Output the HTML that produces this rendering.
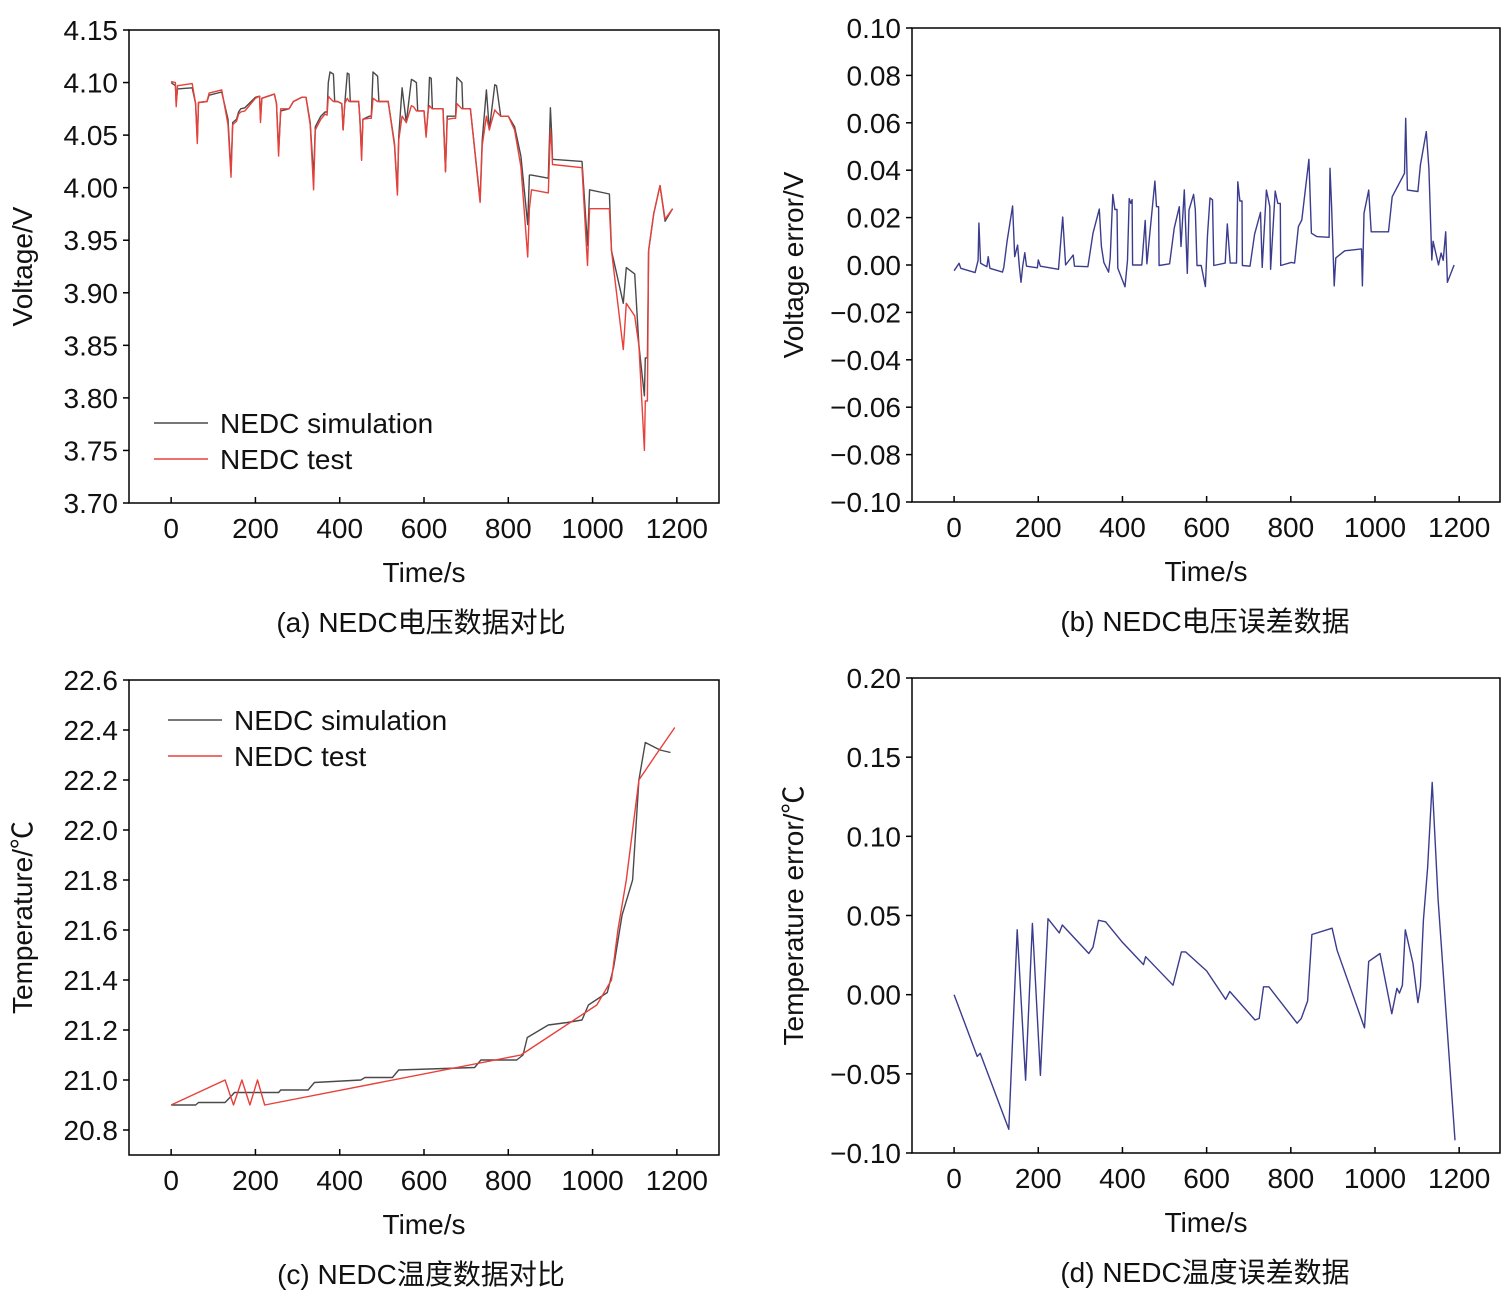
<!DOCTYPE html>
<html><head><meta charset="utf-8">
<style>
html,body{margin:0;padding:0;background:#fff;}
svg{display:block;font-family:"Liberation Sans","Noto Sans CJK SC",sans-serif;}
</style></head>
<body>
<svg id="fig" width="1509" height="1296" viewBox="0 0 1509 1296" xmlns="http://www.w3.org/2000/svg"></svg>
<script>
// ---- Panel (a) voltage data ----
const aTime = [0,10,12,15,50,58,62,65,85,90,120,135,142,146,155,160,165,175,200,210,212,215,245,250,255,260,280,290,310,320,330,338,342,355,365,370,373,377,385,388,395,405,408,412,418,422,425,445,448,452,455,470,475,479,490,493,495,515,530,537,540,548,558,570,575,582,585,600,605,610,613,617,620,645,651,655,670,675,678,690,692,710,733,738,748,755,768,772,782,800,815,830,846,850,855,895,900,903,905,975,988,993,1040,1045,1073,1080,1100,1110,1123,1125,1130,1133,1145,1160,1172,1190];
const aTest = [4.101,4.100,4.077,4.097,4.099,4.080,4.042,4.081,4.082,4.090,4.093,4.060,4.010,4.060,4.063,4.070,4.072,4.073,4.085,4.087,4.062,4.085,4.089,4.080,4.030,4.075,4.075,4.082,4.086,4.086,4.060,3.998,4.055,4.065,4.070,4.069,4.087,4.085,4.082,4.082,4.082,4.080,4.055,4.080,4.085,4.082,4.082,4.082,4.065,4.026,4.065,4.066,4.066,4.085,4.082,4.082,4.082,4.082,4.040,3.993,4.045,4.068,4.062,4.078,4.077,4.073,4.073,4.073,4.048,4.074,4.078,4.076,4.075,4.075,4.015,4.065,4.066,4.066,4.080,4.075,4.075,4.075,3.986,4.040,4.068,4.055,4.074,4.072,4.068,4.068,4.055,4.020,3.934,3.980,3.998,3.995,4.055,4.040,4.022,4.019,3.926,3.980,3.980,3.940,3.846,3.890,3.878,3.850,3.750,3.797,3.797,3.940,3.975,4.002,3.970,3.980];
const aSim = [4.100,4.097,4.080,4.094,4.095,4.080,4.045,4.081,4.082,4.088,4.091,4.065,4.015,4.062,4.065,4.072,4.075,4.076,4.086,4.087,4.065,4.085,4.089,4.080,4.035,4.073,4.075,4.082,4.086,4.086,4.062,4.010,4.058,4.068,4.072,4.072,4.100,4.110,4.108,4.082,4.082,4.080,4.055,4.080,4.109,4.108,4.082,4.082,4.065,4.030,4.065,4.068,4.068,4.110,4.106,4.082,4.082,4.082,4.042,3.996,4.048,4.095,4.062,4.103,4.102,4.100,4.073,4.073,4.050,4.074,4.105,4.104,4.075,4.075,4.016,4.068,4.068,4.068,4.105,4.100,4.075,4.075,3.988,4.045,4.093,4.055,4.098,4.097,4.068,4.068,4.058,4.030,3.965,4.012,4.012,4.009,4.076,4.050,4.027,4.025,3.945,3.998,3.994,3.940,3.890,3.924,3.918,3.850,3.802,3.838,3.838,3.940,3.975,4.002,3.968,3.980];
// ---- Panel (b) voltage error ----
const bTime = [0,12,16,50,57,59,63,78,81,85,115,118,126,139,144,151,155,159,163,168,172,198,200,205,248,258,265,283,286,318,330,345,350,356,367,371,377,382,387,389,406,412,416,420,423,424,446,454,458,477,481,486,487,512,523,535,539,547,554,558,569,573,577,587,597,602,608,614,617,644,649,656,671,674,679,684,685,703,714,728,732,742,750,752,763,769,775,776,801,809,818,826,843,849,862,891,893,897,903,907,928,968,970,974,985,991,1032,1041,1070,1073,1077,1102,1108,1122,1128,1135,1138,1151,1157,1162,1168,1172,1188];
const bErr = [-0.0024,0.0007,-0.0014,-0.0032,0.002,0.0177,0.0007,-0.0007,0.0035,-0.0014,-0.003,-0.001,0.0101,0.0249,0.0035,0.0084,-0.0005,-0.0073,-0.0005,0.0052,-0.0005,-0.0012,0.0021,-0.0005,-0.0018,0.0202,0.0,0.0042,-0.0005,-0.0007,0.0134,0.0236,0.0078,0.0010,-0.003,0.0030,0.0298,0.0234,0.0234,-0.0014,-0.0092,0.0020,0.0280,0.0260,0.0276,0.0,0.0,0.0188,0.0005,0.0354,0.0246,0.0246,-0.0002,0.0005,0.0155,0.0246,0.0078,0.0317,-0.0035,0.0232,0.0298,0.0234,-0.0002,-0.0002,-0.0091,0.0126,0.0283,0.0275,-0.0002,0.0008,0.0173,0.0008,0.0008,0.0351,0.0270,0.0270,-0.0002,-0.0005,0.0130,0.0222,-0.0010,0.0316,0.0247,-0.0018,0.0312,0.0260,0.0260,-0.0002,0.0011,0.0008,0.0162,0.0190,0.0446,0.0134,0.0120,0.0117,0.0408,0.0247,-0.0088,0.0030,0.0060,0.0068,-0.0088,0.0218,0.0316,0.0140,0.0140,0.0288,0.0387,0.0619,0.0316,0.0310,0.0422,0.0563,0.0408,0.0021,0.0100,0.0,0.0050,0.0020,0.0140,-0.0073,0.0];
// ---- Panel (c) temperature ----
const cTestTime = [0,128,148,168,187,205,222,830,1010,1045,1060,1080,1110,1150,1195];
const cTest = [20.90,21.00,20.90,21.00,20.90,21.00,20.90,21.10,21.30,21.40,21.60,21.80,22.20,22.30,22.41];
const cSimTime = [0,58,65,128,145,150,255,260,325,340,450,460,525,540,720,735,820,835,845,895,940,975,990,1035,1050,1070,1095,1110,1125,1160,1185];
const cSim = [20.90,20.90,20.91,20.91,20.94,20.95,20.95,20.96,20.96,20.99,21.00,21.01,21.01,21.04,21.05,21.08,21.08,21.10,21.17,21.22,21.23,21.24,21.30,21.35,21.45,21.66,21.80,22.20,22.35,22.32,22.31];
// ---- Panel (d) temperature error ----
const dTime = [0,55,62,130,150,170,186,205,223,250,257,320,330,343,360,400,450,455,520,540,550,600,645,655,715,725,735,748,815,825,840,850,898,910,975,985,1012,1040,1052,1058,1065,1072,1090,1102,1108,1115,1125,1136,1150,1190];
const dErr = [0.000,-0.039,-0.037,-0.085,0.041,-0.054,0.045,-0.051,0.048,0.039,0.044,0.026,0.030,0.047,0.046,0.033,0.019,0.024,0.006,0.027,0.027,0.015,-0.003,0.002,-0.016,-0.015,0.005,0.005,-0.018,-0.015,-0.004,0.038,0.042,0.028,-0.021,0.021,0.026,-0.012,0.004,0.001,0.006,0.041,0.020,-0.005,0.005,0.047,0.080,0.134,0.060,-0.092];
// tick labels
const xTicks = [0,200,400,600,800,1000,1200];
const aYTicks = ["3.70","3.75","3.80","3.85","3.90","3.95","4.00","4.05","4.10","4.15"];
const bYTicks = ["\u22120.10","\u22120.08","\u22120.06","\u22120.04","\u22120.02","0.00","0.02","0.04","0.06","0.08","0.10"];
const cYTicks = ["20.8","21.0","21.2","21.4","21.6","21.8","22.0","22.2","22.4","22.6"];
const dYTicks = ["\u22120.10","\u22120.05","0.00","0.05","0.10","0.15","0.20"];

const NS = "http://www.w3.org/2000/svg";
const FS = 28;
const fig = document.getElementById('fig');
function mk(tag, attrs, parent){ const e=document.createElementNS(NS,tag); for(const k in attrs) e.setAttribute(k,attrs[k]); (parent||fig).appendChild(e); return e; }
function num(s){ return parseFloat(s.replace('\u2212','-')); }

function panel(cfg){
  const g = mk('g',{});
  
  
  const sx = v => cfg.L + (v - cfg.x0)/(cfg.x1 - cfg.x0)*(cfg.R - cfg.L);
  const sy = v => cfg.B - (v - cfg.y0)/(cfg.y1 - cfg.y0)*(cfg.B - cfg.T);
  const fr = mk('rect',{x:cfg.L,y:cfg.T,width:cfg.R-cfg.L,height:cfg.B-cfg.T,fill:'none',stroke:'#000','stroke-width':1.5},g);
  
  
  xTicks.forEach(t=>{
    const x=sx(t);
    mk('line',{x1:x,x2:x,y1:cfg.B,y2:cfg.B-6,stroke:'#000','stroke-width':1.5},g);
    const tx=mk('text',{x:x,y:cfg.B+35,'text-anchor':'middle','font-size':FS,fill:'#111'},g);
    tx.textContent=t;
    
    
  });
  cfg.yTicks.forEach(s=>{
    const y=sy(num(s));
    mk('line',{x1:cfg.L,x2:cfg.L-6,y1:y,y2:y,stroke:'#000','stroke-width':1.5},g);
    const tx=mk('text',{x:cfg.L-11,y:y+10,'text-anchor':'end','font-size':FS,fill:'#111'},g);
    tx.textContent=s;
    
    
  });
  const xt=mk('text',{x:(cfg.L+cfg.R)/2,y:cfg.B+79,'text-anchor':'middle','font-size':FS,fill:'#111'},g);
  xt.textContent='Time/s';
  
  
  const yt=mk('text',{x:0,y:0,'text-anchor':'middle','font-size':FS,fill:'#111',transform:`translate(${cfg.ylx},${(cfg.T+cfg.B)/2}) rotate(-90)`},g);
  yt.textContent=cfg.ylabel;
  
  
  const cp=mk('text',{x:cfg.capx,y:cfg.B+129,'text-anchor':'middle','font-size':FS,fill:'#111'},g);
  cp.textContent=cfg.caption;
  
  
  cfg.series.forEach(s=>{
    const pts=s.t.map((t,i)=>sx(t).toFixed(1)+','+sy(s.v[i]).toFixed(1)).join(' ');
    const pl=mk('polyline',{points:pts,fill:'none',stroke:s.color,'stroke-width':1.4,'stroke-linejoin':'round'},g);
    
    
  });
  if(cfg.legend){
    cfg.legend.items.forEach((it,i)=>{
      const y=cfg.legend.y+i*36;
      const ln=mk('line',{x1:cfg.legend.x,x2:cfg.legend.x+54,y1:y,y2:y,stroke:it.color,'stroke-width':1.4},g);
      
      
      const tx=mk('text',{x:cfg.legend.x+66,y:y+10,'font-size':FS,fill:'#111'},g);
      tx.textContent=it.label;
      
      
    });
  }
}
const SIM='#4a4a4a', TEST='#e8403a', BLUE='#3b3c8e';
panel({name:'voltage-comparison-chart',L:129,R:719,T:30,B:503,x0:-100,x1:1300,y0:3.70,y1:4.15,yTicks:aYTicks,ylx:32,ylabel:'Voltage/V',capx:421,caption:'(a) NEDC电压数据对比',
  series:[{name:'nedc-simulation-line',t:aTime,v:aSim,color:SIM},{name:'nedc-test-line',t:aTime,v:aTest,color:TEST}],
  legend:{x:154,y:423,items:[{label:'NEDC simulation',color:SIM},{label:'NEDC test',color:TEST}]}});
panel({name:'voltage-error-chart',L:912,R:1500,T:28,B:502,x0:-100,x1:1297,y0:-0.10,y1:0.10,yTicks:bYTicks,ylx:803,ylabel:'Voltage error/V',capx:1205,caption:'(b) NEDC电压误差数据',
  series:[{name:'voltage-error-line',t:bTime,v:bErr,color:BLUE}]});
panel({name:'temperature-comparison-chart',L:129,R:719,T:680,B:1155,x0:-100,x1:1300,y0:20.7,y1:22.6,yTicks:cYTicks,ylx:32,ylabel:'Temperature/℃',capx:421,caption:'(c) NEDC温度数据对比',
  series:[{name:'nedc-simulation-line',t:cSimTime,v:cSim,color:SIM},{name:'nedc-test-line',t:cTestTime,v:cTest,color:TEST}],
  legend:{x:168,y:720,items:[{label:'NEDC simulation',color:SIM},{label:'NEDC test',color:TEST}]}});
panel({name:'temperature-error-chart',L:912,R:1500,T:678,B:1153,x0:-100,x1:1297,y0:-0.10,y1:0.20,yTicks:dYTicks,ylx:803,ylabel:'Temperature error/℃',capx:1205,caption:'(d) NEDC温度误差数据',
  series:[{name:'temperature-error-line',t:dTime,v:dErr,color:BLUE}]});
</script>
</body></html>
